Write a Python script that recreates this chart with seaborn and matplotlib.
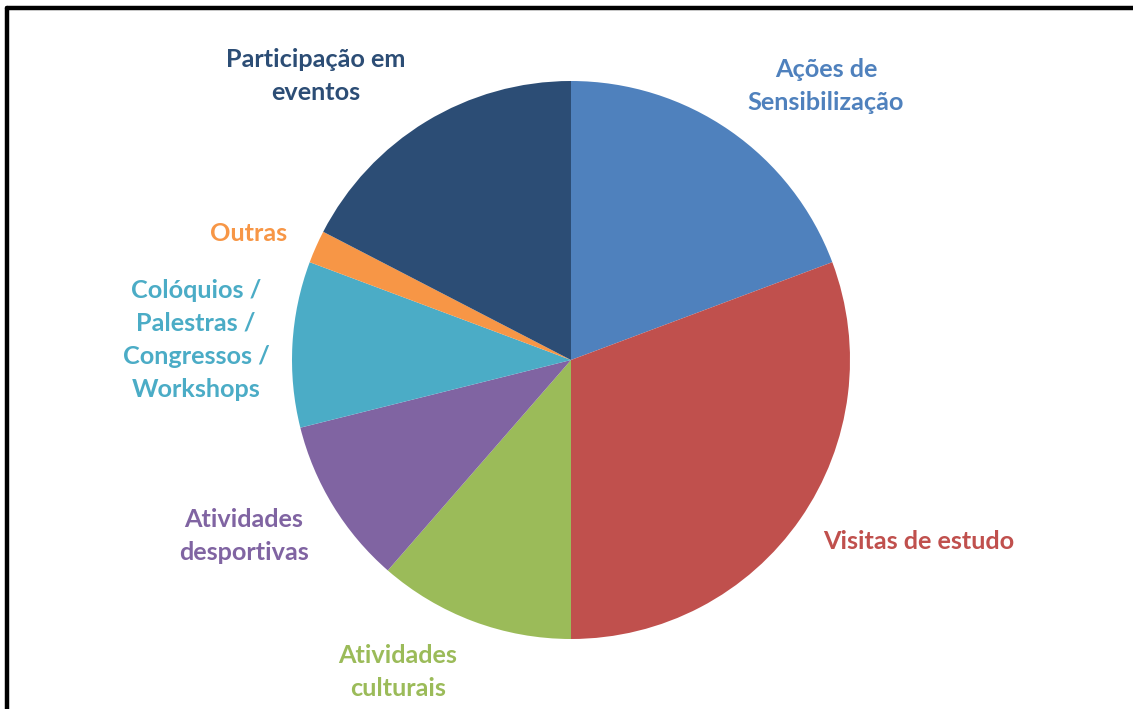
import matplotlib
matplotlib.use("Agg")
import matplotlib.pyplot as plt
import seaborn as sns
import numpy as np

sns.set_theme(style="white")
plt.rcParams['font.family'] = ['Lato', 'DejaVu Sans']

# Data (clockwise from 12 o'clock)
categories = ["Ações de\nSensibilização", "Visitas de estudo", "Atividades\nculturais",
              "Atividades\ndesportivas", "Colóquios /\nPalestras /\nCongressos /\nWorkshops",
              "Outras", "Participação em\neventos"]
values = [19.3, 30.7, 11.4, 9.7, 9.6, 1.9, 17.4]

# Styles
colors = ["#4F81BD", "#C0504D", "#9BBB59", "#8064A2", "#4BACC6", "#F79646", "#2C4D75"]
label_colors = ["#4F81BD", "#C0504D", "#9BBB59", "#8064A2", "#4BACC6", "#F79646", "#2C4D75"]
# label centres in pie-radius units relative to centre (layout)
label_pos = [(0.914, 0.982), (1.247, -0.652), (-0.620, -1.118), (-1.172, -0.631),
             (-1.344, 0.072), (-1.154, 0.455), (-0.914, 1.018)]

W, H, DPI = 1133, 709, 100
fig = plt.figure(figsize=(W / DPI, H / DPI), dpi=DPI)
ax = fig.add_axes([0, 0, 1, 1])
cx, cy, R = 571, 709 - 360, 279
ax.pie(values, colors=colors, startangle=90, counterclock=False, radius=1,
       wedgeprops=dict(linewidth=0), frame=False)
ax.set_aspect('auto')
ax.set_xlim(-cx / R, (W - cx) / R)
ax.set_ylim(-cy / R, (H - cy) / R)
ax.axis('off')

for lab, (lx, ly), c in zip(categories, label_pos, label_colors):
    ax.text(lx, ly, lab, ha='center', va='center', color=c, fontsize=18.2,
            fontweight='bold', linespacing=1.53)

# frame lines (top and left)
fig.add_artist(plt.Line2D([6.5 / W, 1], [1 - 7.5 / H, 1 - 7.5 / H], color='black', lw=3.2,
                          transform=fig.transFigure))
fig.add_artist(plt.Line2D([6.5 / W, 6.5 / W], [0, 1 - 7.5 / H], color='black', lw=3.2,
                          transform=fig.transFigure))

fig.savefig("out.png", dpi=DPI, facecolor='white')
